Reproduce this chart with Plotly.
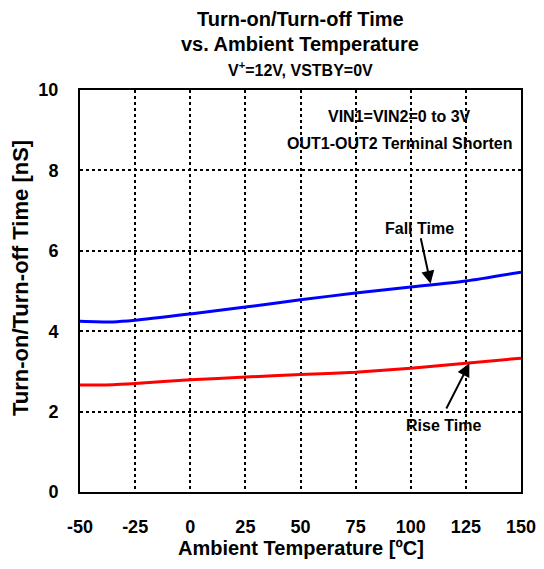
import plotly.graph_objects as go

temp = [-50, -35, -25, 0, 25, 50, 75, 100, 125, 150]
fall_time = [4.25, 4.23, 4.27, 4.43, 4.60, 4.78, 4.95, 5.10, 5.25, 5.47]
rise_time = [2.66, 2.67, 2.70, 2.79, 2.86, 2.92, 2.98, 3.08, 3.20, 3.33]
x_ticks = [-50, -25, 0, 25, 50, 75, 100, 125, 150]
y_ticks = [0, 2, 4, 6, 8, 10]

FONT = "Liberation Sans, Arial, sans-serif"
W, H = 536, 553  # page body has an 8px margin
PL, PT, PW, PH = 80, 90, 441, 402  # plot area in page pixels


def px(xp):
    return (xp - PL) / PW


def py(yp):
    return (PT + PH - yp) / PH


fig = go.Figure()
fig.add_trace(go.Scatter(x=temp, y=fall_time, mode="lines",
                         line=dict(color="#0000FF", width=3, shape="spline", smoothing=0.6), showlegend=False))
fig.add_trace(go.Scatter(x=temp, y=rise_time, mode="lines",
                         line=dict(color="#FF0000", width=3, shape="spline", smoothing=0.6), showlegend=False))

axis_common = dict(showgrid=True, gridcolor="black", griddash="3px,3px", gridwidth=2, zeroline=False,
                   showline=True, mirror=True, linecolor="black", linewidth=2, automargin=False,
                   ticks="", tickfont=dict(family=FONT, size=18, color="black", weight="bold"))
fig.update_xaxes(range=[-50, 150], tickvals=x_ticks, ticktext=[str(v) for v in x_ticks], ticklabelstandoff=17,
                 **axis_common)
fig.update_yaxes(range=[0, 10], tickvals=y_ticks, ticktext=[str(v) for v in y_ticks], ticklabelstandoff=16,
                 **axis_common)

texts = [
    ("<b>Turn-on/Turn-off Time</b>", 300, 19, 20, 0),
    ("<b>vs. Ambient Temperature</b>", 300, 44, 20, 0),
    ("<b>V<sup>+</sup>=12V, VSTBY=0V</b>", 300, 69, 16, 0),
    ("<b>Ambient Temperature [ºC]</b>", 301, 548, 20, 0),
    ("<b>Turn-on/Turn-off Time [nS]</b>", 20, 278, 22, -90),
    ("<b>VIN1=VIN2=0 to 3V</b>", 399, 116, 16, 0),
    ("<b>OUT1-OUT2 Terminal Shorten</b>", 400, 143, 16, 0),
    ("<b>Fall Time</b>", 419, 228, 16, 0),
    ("<b>Rise Time</b>", 443, 425, 16, 0),
]
for text, xp, yp, size, ang in texts:
    fig.add_annotation(text=text, xref="paper", yref="paper", x=px(xp), y=py(yp),
                       xanchor="center", yanchor="middle", textangle=ang,
                       showarrow=False, font=dict(family=FONT, size=size, color="black"))

# arrows (data coordinates)
fig.add_annotation(x=109.0, y=5.18, ax=104.4, ay=6.35, xref="x", yref="y", axref="x", ayref="y",
                   showarrow=True, arrowhead=2, arrowsize=1.3, arrowwidth=2, arrowcolor="black", text="")
fig.add_annotation(x=126.6, y=3.20, ax=115.8, ay=2.04, xref="x", yref="y", axref="x", ayref="y",
                   showarrow=True, arrowhead=2, arrowsize=1.3, arrowwidth=2, arrowcolor="black", text="")

fig.update_layout(width=W, height=H, margin=dict(l=72, r=23, t=82, b=69, autoexpand=False),
                  paper_bgcolor="white", plot_bgcolor="white", font=dict(family=FONT, color="black"))
fig.write_html("out.html")
